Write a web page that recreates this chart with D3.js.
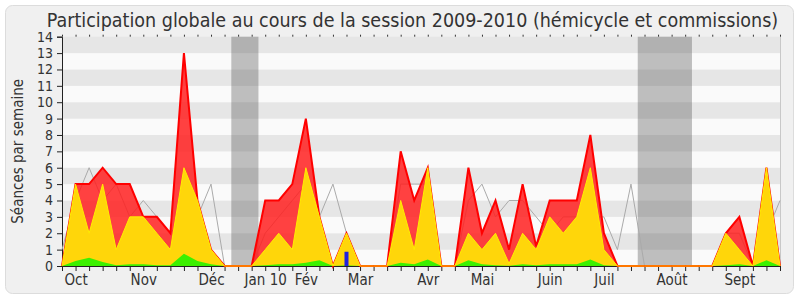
<!DOCTYPE html>
<html>
<head>
<meta charset="utf-8">
<script src="https://cdn.jsdelivr.net/npm/d3@7"></script>
<style>
  body { margin: 0; background: #fff; }
  svg { display: block; }
  text { font-family: "DejaVu Sans Condensed", "DejaVu Sans", sans-serif; font-stretch: condensed; fill: #333; }
</style>
</head>
<body>
<div id="container"></div>
<script>
// weekly values, session 2009-2010 (week 0 = end of september)
let total    = [0,5,5,6,5,5,3,3,2,13,4,1,0,0,0,4,4,5,9,3,0,2,0,0,0,7,4,6,0,0,6,2,4,1,5,1.2,4,4,4,8,2,0,0,0,0,0,0,0,0,2,3,0,6,0];
let commiss  = [0,5,2,5,1,3,3,2,1,6,4,1,0,0,0,1,2,1,6,3,0,2,0,0,0,4,1,6,0,0,2,1,2,0.15,2,1,3,2,3,6,1,0,0,0,0,0,0,0,0,2,1,0,6,0];
let hemi     = [0,0.3,0.5,0.25,0.05,0.1,0.1,0.05,0.05,0.75,0.3,0.1,0,0,0,0.05,0.1,0.1,0.2,0.35,0,0.05,0,0,0,0.2,0.1,0.4,0,0,0.35,0.1,0.05,0.02,0.1,0.05,0.1,0.1,0.1,0.4,0.05,0,0,0,0,0,0,0,0,0.05,0.1,0,0.35,0];
let median   = [1,4,6,4,5,3,4,3,2,3,3,5,0,0,0,2,3,4,5,3,5,2,0,0,0,5,5,5,0,0,4,5,3,4,4,3,2,3,3,3,3,1,5,0,0,0,0,0,0,2,2,0,2,4];
let questions = [{week: 21, value: 0.87}];

let vacances = [[12.5, 14.5], [42.5, 46.5]];
let monthWeeks  = [1, 6, 11, 15, 18, 22, 27, 31, 36, 40, 45, 50];
let monthLabels = ["Oct", "Nov", "Déc", "Jan 10", "Fév", "Mar", "Avr", "Mai", "Juin", "Juil", "Août", "Sept"];

let w = 800;
let h = 300;
let padL = 62, padR = 780, padT = 36.7, padB = 266;

let viz = d3.select("#container")
  .append("svg")
    .attr("width", w)
    .attr("height", h)
;

// background panel
viz.append("rect")
  .attr("x", 5.5).attr("y", 5.5)
  .attr("width", 788).attr("height", 288)
  .attr("rx", 7)
  .attr("fill", "#f0f0f0")
  .attr("stroke", "#dcdcdc")
;

let weeks = d3.range(total.length);
let xScale = d3.scaleLinear().domain([0, weeks.length - 1]).range([padL, padR]);
let yScale = d3.scaleLinear().domain([0, 14]).range([padB, padT]);

// striped background
let stripes = viz.append("g").classed("stripes", true);
stripes.selectAll("rect").data(d3.range(14)).enter()
  .append("rect")
    .attr("x", padL)
    .attr("width", padR - padL)
    .attr("y", d => yScale(d + 1))
    .attr("height", d => yScale(d) - yScale(d + 1))
    .attr("fill", d => d % 2 == 1 ? "#e6e6e6" : "#fafafa")
;

// holidays
viz.append("g").selectAll("rect").data(vacances).enter()
  .append("rect")
    .attr("x", d => xScale(d[0]))
    .attr("width", d => xScale(d[1]) - xScale(d[0]))
    .attr("y", padT)
    .attr("height", padB - padT)
    .attr("fill", "rgb(76,76,76)")
    .attr("fill-opacity", 0.35)
;

// right border
viz.append("line")
  .attr("x1", padR + 0.5).attr("x2", padR + 0.5)
  .attr("y1", padT).attr("y2", padB)
  .attr("stroke", "#c8c8c8")
;

// axes
let xAxis = d3.axisBottom(xScale)
  .tickValues(weeks)
  .tickSize(5)
  .tickFormat(d => {
    let k = monthWeeks.indexOf(d);
    return k >= 0 ? monthLabels[k] : "";
  });
let xAxisGroup = viz.append("g").classed("xAxis", true)
  .attr("transform", "translate(0," + padB + ")")
  .call(xAxis);
xAxisGroup.selectAll("text").attr("font-size", 15).attr("fill", "#333");
xAxisGroup.selectAll("line").attr("stroke", "#222");
xAxisGroup.select(".domain").attr("stroke", "#222");

let topAxis = d3.axisTop(xScale).tickValues(weeks).tickSize(2).tickFormat("");
let topGroup = viz.append("g").attr("transform", "translate(0," + padT + ")").call(topAxis);
topGroup.select(".domain").remove();
topGroup.selectAll("line").attr("stroke", "#333");

let yAxis = d3.axisLeft(yScale).tickValues(d3.range(15)).tickSize(5).tickPadding(4);
let yAxisGroup = viz.append("g").classed("yAxis", true)
  .attr("transform", "translate(" + padL + ",0)")
  .call(yAxis);
yAxisGroup.selectAll("text").attr("font-size", 14).attr("fill", "#333");
yAxisGroup.selectAll("line").attr("stroke", "#222");
yAxisGroup.select(".domain").attr("stroke", "#222");

viz.append("text")
  .attr("transform", "translate(23," + ((padT + padB) / 2) + ") rotate(-90)")
  .attr("text-anchor", "middle")
  .attr("font-size", 15)
  .text("Séances par semaine")
;

viz.append("text")
  .attr("x", 412.5)
  .attr("y", 26.5)
  .attr("text-anchor", "middle")
  .attr("font-size", 19.5)
  .text("Participation globale au cours de la session 2009-2010 (hémicycle et commissions)")
;

// series
let graphGroup = viz.append("g").classed("graphGroup", true);

function area(values){
  return d3.area()
    .x((d, i) => xScale(i))
    .y0(yScale(0))
    .y1(d => yScale(d))(values);
}
function line(values){
  return d3.line()
    .x((d, i) => xScale(i))
    .y(d => yScale(d))(values);
}

graphGroup.append("path")
  .attr("d", line(median))
  .attr("fill", "none")
  .attr("stroke", "#aaaaaa")
  .attr("stroke-width", 1)
;

graphGroup.append("path")
  .attr("d", area(total))
  .attr("fill", "#ff2020")
  .attr("fill-opacity", 0.85)
;
graphGroup.append("path")
  .attr("d", line(total))
  .attr("fill", "none")
  .attr("stroke", "#ff0000")
  .attr("stroke-width", 2)
;

graphGroup.append("path")
  .attr("d", area(commiss))
  .attr("fill", "#ffd60a")
;
graphGroup.append("path")
  .attr("d", line(commiss))
  .attr("fill", "none")
  .attr("stroke", "#ffee00")
  .attr("stroke-width", 1)
;

graphGroup.append("path")
  .attr("d", area(hemi))
  .attr("fill", "#3cf000")
;

graphGroup.selectAll(".question").data(questions).enter()
  .append("rect")
    .classed("question", true)
    .attr("x", d => xScale(d.week) - 2)
    .attr("width", 4)
    .attr("y", d => yScale(d.value))
    .attr("height", d => yScale(0) - yScale(d.value))
    .attr("fill", "#2222dd")
;
</script>
</body>
</html>
